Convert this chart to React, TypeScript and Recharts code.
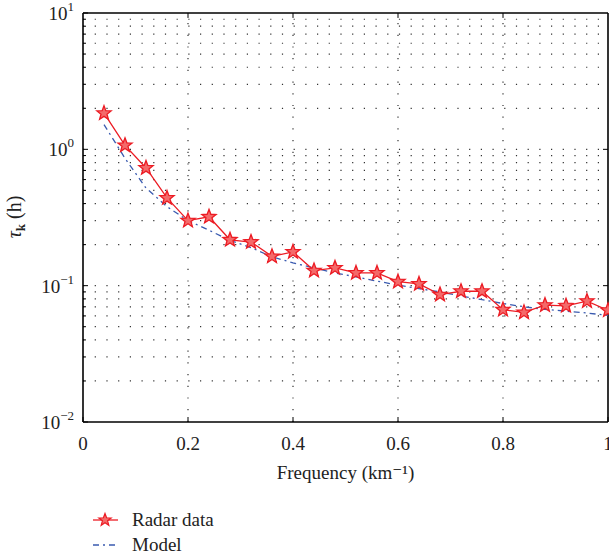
import { Line, LineChart, ReferenceLine, XAxis, YAxis } from "recharts";

const FONT = "'Liberation Serif', 'DejaVu Serif', serif";

// frequency (km^-1)
const FREQ = [
  0.04, 0.08, 0.12, 0.16, 0.2, 0.24, 0.28, 0.32, 0.36, 0.4, 0.44, 0.48, 0.52,
  0.56, 0.6, 0.64, 0.68, 0.72, 0.76, 0.8, 0.84, 0.88, 0.92, 0.96, 1.0,
];
// τk (h) from radar
const RADAR = [
  1.84, 1.07, 0.73, 0.44, 0.3, 0.32, 0.217, 0.209, 0.164, 0.177, 0.129, 0.135,
  0.124, 0.124, 0.107, 0.103, 0.086, 0.091, 0.091, 0.0667, 0.0637, 0.072,
  0.0712, 0.077, 0.066,
];
// model curve
const MODEL = [
  1.52, 0.86, 0.52, 0.38, 0.3, 0.255, 0.215, 0.19, 0.163, 0.147, 0.135, 0.124,
  0.116, 0.108, 0.101, 0.095, 0.09, 0.084, 0.079, 0.074, 0.07, 0.067, 0.065,
  0.063, 0.0605,
];

const X_TICKS = [0, 0.2, 0.4, 0.6, 0.8, 1];
const Y_MAJOR = [0.01, 0.1, 1, 10];
const Y_EXP = ["−2", "−1", "0", "1"];
const Y_MINOR = [2, 3, 4, 5, 6, 7, 8, 9].flatMap((m) => [m * 0.01, m * 0.1, m]);

const data = FREQ.map((f, i) => ({ f, radar: RADAR[i], model: MODEL[i] }));

const RED = "#ec1c24";
const BLUE = "#3a5bb0";
const DOTS = "1.2 10.5";
const DASHDOT = "6 4 2 4";

function starPath(cx: number, cy: number, r: number) {
  const pts: string[] = [];
  for (let i = 0; i < 10; i++) {
    const rr = i % 2 === 0 ? r : r * 0.42;
    const a = -Math.PI / 2 + (i * Math.PI) / 5;
    pts.push(`${cx + rr * Math.cos(a)},${cy + rr * Math.sin(a)}`);
  }
  return "M" + pts.join("L") + "Z";
}

function Star(props: any) {
  const { cx, cy } = props;
  if (cx == null || cy == null) return null;
  return (
    <path d={starPath(cx, cy, 7.5)} fill="#f46a6a" stroke={RED} strokeWidth={1.3} />
  );
}

function XTick(props: any) {
  const { x, y, payload } = props;
  return (
    <g>
      <line x1={x} y1={y} x2={x} y2={y - 5} stroke="#000" />
      <text x={x} y={y + 28} textAnchor="middle" fontFamily={FONT} fontSize={19} fill="#222">
        {payload.value}
      </text>
    </g>
  );
}

function YTick(props: any) {
  const { x, y, payload } = props;
  const idx = Y_MAJOR.findIndex((v) => Math.abs(v - payload.value) < 1e-9);
  const major = idx >= 0;
  return (
    <g>
      <line x1={x} y1={y} x2={x + (major ? 5 : 3)} y2={y} stroke="#000" />
      {major ? (
        <text x={x - 9} y={y + 7} textAnchor="end" fontFamily={FONT} fontSize={19} fill="#222">
          <tspan>10</tspan>
          <tspan dy={-9} fontSize={13}>
            {Y_EXP[idx]}
          </tspan>
        </text>
      ) : null}
    </g>
  );
}

function LegendBox() {
  return (
    <svg width={220} height={52} style={{ fontFamily: FONT, display: "block" }}>
      <line x1={3} y1={13} x2={28} y2={13} stroke={RED} strokeWidth={1.3} />
      <path d={starPath(15, 13, 6.5)} fill="#f46a6a" stroke={RED} strokeWidth={1.2} />
      <text x={42} y={19} fontSize={19} fill="#222">
        Radar data
      </text>
      <line x1={3} y1={38} x2={28} y2={38} stroke={BLUE} strokeWidth={1.3} strokeDasharray={DASHDOT} />
      <text x={42} y={44} fontSize={19} fill="#222">
        Model
      </text>
    </svg>
  );
}

export default function App() {
  return (
    <div style={{ position: "absolute", left: 0, top: 0, width: 609, height: 558, background: "#fff", overflow: "hidden" }}>
      <style>{`html,body{margin:0;padding:0;overflow:hidden}`}</style>
      <LineChart
        width={609}
        height={558}
        data={data}
        margin={{ top: 13, right: 1, left: 8, bottom: 76 }}
      >
        {Y_MINOR.concat([0.1, 1]).map((v) => (
          <ReferenceLine key={"h" + v} y={v} stroke="#333" strokeWidth={1.2} strokeDasharray={DOTS} />
        ))}
        {[0.2, 0.4, 0.6, 0.8].map((v) => (
          <ReferenceLine key={"v" + v} x={v} stroke="#333" strokeWidth={1.2} strokeDasharray={DOTS} />
        ))}
        {/* top and right frame */}
        <ReferenceLine y={10} stroke="#000" strokeWidth={1.6} />
        <ReferenceLine x={1} stroke="#000" strokeWidth={1.6} />
        {X_TICKS.slice(1, -1).map((v) => (
          <ReferenceLine
            key={"tt" + v}
            segment={[{ x: v, y: 10 }, { x: v, y: 9.2 }]}
            stroke="#000"
          />
        ))}
        {Y_MAJOR.slice(1, -1).map((v) => (
          <ReferenceLine
            key={"rt" + v}
            segment={[{ x: 1, y: v }, { x: 0.9905, y: v }]}
            stroke="#000"
          />
        ))}
        <XAxis
          dataKey="f"
          type="number"
          domain={[0, 1]}
          ticks={X_TICKS}
          interval={0}
          tick={<XTick />}
          tickLine={false}
          tickSize={0}
          tickMargin={0}
          axisLine={{ stroke: "#000", strokeWidth: 1.6 }}
          height={60}
          label={{
            value: "Frequency (km⁻¹)",
            position: "insideBottom",
            offset: 3,
            fontFamily: FONT,
            fontSize: 19,
            fill: "#222",
          }}
        />
        <YAxis
          scale="log"
          type="number"
          domain={[0.01, 10]}
          allowDataOverflow
          ticks={Y_MAJOR.concat(Y_MINOR)}
          interval={0}
          tick={<YTick />}
          tickLine={false}
          tickSize={0}
          tickMargin={0}
          axisLine={{ stroke: "#000", strokeWidth: 1.6 }}
          width={75}
        />
        <Line
          dataKey="model"
          stroke={BLUE}
          strokeWidth={1.3}
          strokeDasharray={DASHDOT}
          dot={false}
          isAnimationActive={false}
        />
        <Line
          dataKey="radar"
          stroke={RED}
          strokeWidth={1.3}
          dot={<Star />}
          isAnimationActive={false}
        />
      </LineChart>
      <svg width={40} height={120} style={{ position: "absolute", left: 0, top: 158 }}>
        <text
          transform="translate(21 59) rotate(-90)"
          textAnchor="middle"
          fontFamily={FONT}
          fontSize={20}
          fill="#222"
        >
          <tspan fontStyle="italic">τ</tspan>
          <tspan fontWeight="bold" fontSize={13} dy={4}>
            k
          </tspan>
          <tspan dy={-4}> (h)</tspan>
        </text>
      </svg>
      <div style={{ position: "absolute", left: 90, top: 507 }}>
        <LegendBox />
      </div>
    </div>
  );
}
